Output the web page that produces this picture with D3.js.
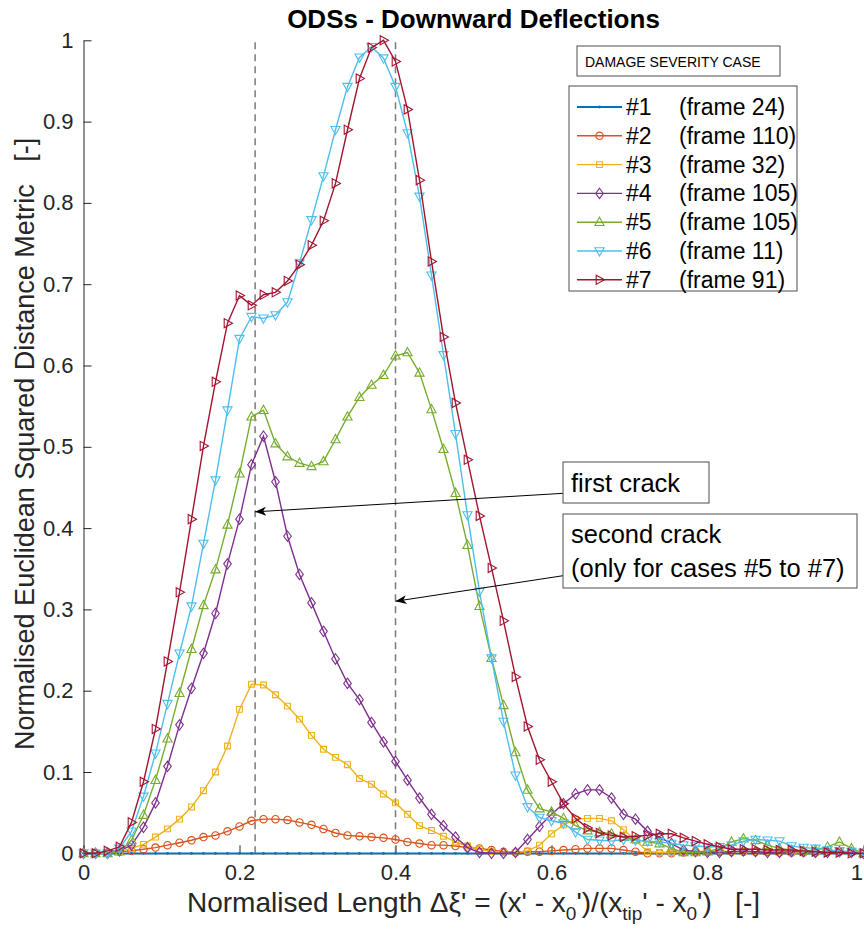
<!DOCTYPE html>
<html><head><meta charset="utf-8">
<script src="https://cdn.jsdelivr.net/npm/d3@7"></script>
<style>
body{margin:0;background:#fff;}
svg{display:block;font-family:"Liberation Sans",Arial,Helvetica,sans-serif;}
text{white-space:pre;}
</style></head><body>
<svg id="c" width="864" height="944"></svg>
<script>
// ---------------- data ----------------
const N = 66; // samples at x = i/65
const xs = d3.range(N).map(i => i / (N - 1));
const caseNames = ["#1", "#2", "#3", "#4", "#5", "#6", "#7"];
const frameLabels = ["(frame 24)", "(frame 110)", "(frame 32)", "(frame 105)", "(frame 105)", "(frame 11)", "(frame 91)"];
const s1 = d3.range(N).map(() => 0);
const s2 = [0,0,0.001,0.002,0.003,0.005,0.007,0.010,0.013,0.016,
 0.020,0.022,0.027,0.033,0.040,0.042,0.042,0.041,0.038,0.035,
 0.030,0.025,0.022,0.021,0.020,0.019,0.017,0.014,0.012,0.010,
 0.010,0.009,0.007,0.006,0.004,0.002,0.001,0.002,0.002,0.003,
 0.004,0.005,0.006,0.006,0.006,0.004,0.002,0.000,0.000,0.000,
 0.001,0.002,0.002,0.002,0.002,0.002,0.002,0.002,0.001,0.001,
 0.001,0.001,0.002,0.002,0.001,0.000];
const s3 = [0,0,0,0.002,0.006,0.011,0.020,0.030,0.042,0.057,
 0.077,0.100,0.132,0.177,0.208,0.207,0.195,0.181,0.165,0.145,
 0.128,0.118,0.109,0.092,0.085,0.073,0.062,0.048,0.034,0.028,
 0.021,0.014,0.009,0.005,0.002,0.001,0.001,0.003,0.010,0.024,
 0.035,0.042,0.043,0.043,0.040,0.029,0.016,0.002,0.001,0.001,
 0.002,0.002,0.003,0.003,0.002,0.002,0.002,0.002,0.002,0.001,
 0.001,0.001,0.002,0.002,0.001,0.000];
const s4 = [0,0,0,0.003,0.010,0.032,0.062,0.107,0.158,0.203,
 0.246,0.295,0.356,0.411,0.478,0.513,0.457,0.390,0.343,0.308,
 0.273,0.239,0.209,0.189,0.161,0.137,0.113,0.090,0.068,0.048,
 0.034,0.020,0.007,0.001,0.000,0.000,0.001,0.017,0.033,0.048,
 0.061,0.073,0.078,0.078,0.068,0.048,0.042,0.027,0.020,0.012,
 0.004,0.002,0.001,0.001,0.002,0.003,0.002,0.001,0.001,0.002,
 0.002,0.001,0.001,0.002,0.001,0.000];
const s5 = [0,0,0,0.002,0.016,0.047,0.090,0.141,0.197,0.251,
 0.305,0.349,0.404,0.467,0.537,0.545,0.504,0.488,0.480,0.476,
 0.482,0.509,0.537,0.561,0.576,0.588,0.612,0.616,0.591,0.546,
 0.497,0.443,0.379,0.304,0.240,0.182,0.124,0.078,0.055,0.051,
 0.043,0.034,0.028,0.026,0.024,0.020,0.017,0.014,0.012,0.006,
 0.001,0.001,0.002,0.006,0.014,0.018,0.016,0.010,0.006,0.004,
 0.003,0.004,0.008,0.014,0.006,0.000];
const s6 = [0,0,0,0.006,0.027,0.070,0.123,0.184,0.246,0.304,
 0.381,0.459,0.545,0.633,0.660,0.658,0.662,0.678,0.726,0.779,
 0.833,0.890,0.943,0.979,0.992,0.978,0.943,0.886,0.808,0.711,
 0.613,0.516,0.416,0.322,0.240,0.162,0.096,0.057,0.044,0.040,
 0.037,0.026,0.017,0.016,0.015,0.017,0.016,0.015,0.014,0.012,
 0.010,0.009,0.008,0.008,0.010,0.015,0.017,0.016,0.015,0.009,
 0.007,0.006,0.004,0.003,0.002,0.001];
const s7 = [0,0,0.003,0.008,0.038,0.088,0.153,0.236,0.321,0.411,
 0.501,0.580,0.652,0.686,0.674,0.687,0.690,0.704,0.724,0.748,
 0.778,0.824,0.890,0.953,0.991,1.000,0.974,0.915,0.828,0.728,
 0.635,0.554,0.484,0.415,0.351,0.286,0.217,0.156,0.115,0.088,
 0.061,0.043,0.031,0.025,0.022,0.020,0.021,0.022,0.024,0.024,
 0.019,0.015,0.011,0.008,0.005,0.005,0.005,0.004,0.004,0.004,
 0.003,0.002,0.001,0.001,0.000,0.000];
const seriesValues = [s1, s2, s3, s4, s5, s6, s7];
const xTicks = [0, 0.2, 0.4, 0.6, 0.8, 1];
const yTicks = [0, 0.1, 0.2, 0.3, 0.4, 0.5, 0.6, 0.7, 0.8, 0.9, 1];
const crackX = [0.22, 0.4];
const firstCrack = {tail: [0.6186, 0.443], head: [0.22, 0.42]};
const secondCrack = {tail: [0.6186, 0.342], head: [0.4, 0.31]};

// ---------------- styles ----------------
const colors = ["#0072BD", "#D95319", "#EDB120", "#7E2F8E", "#77AC30", "#4DBEEE", "#A2142F"];
const markers = ["dot", "circle", "square", "diamond", "up", "down", "right"];

const svg = d3.select("#c");
const x = d3.scaleLinear().domain([0, 1]).range([83.5, 863.5]);
const y = d3.scaleLinear().domain([0, 1]).range([853.3, 40.3]);

function markerPath(type) {
  switch (type) {
    case "circle": return "M3.7,0A3.7,3.7 0 1,1 -3.7,0A3.7,3.7 0 1,1 3.7,0Z";
    case "square": return "M-2.9,-2.9H2.9V2.9H-2.9Z";
    case "diamond": return "M0,-5.2L3.8,0L0,5.2L-3.8,0Z";
    case "up": return "M0,-5L4.6,3.3L-4.6,3.3Z";
    case "down": return "M0,5L4.6,-3.3L-4.6,-3.3Z";
    case "right": return "M5,0L-3.3,-4.6L-3.3,4.6Z";
    default: return "M1.4,0A1.4,1.4 0 1,1 -1.4,0A1.4,1.4 0 1,1 1.4,0Z";
  }
}

// axes
const axisColor = "#262626";
const fmt = d => (d === 0 || d === 1) ? d3.format("d")(d) : d3.format(".1f")(d);
const gx = svg.append("g").attr("transform", `translate(0,${y(0)})`)
  .call(d3.axisBottom(x).tickValues(xTicks).tickFormat(fmt).tickSizeInner(-8).tickSizeOuter(0).tickPadding(11));
const gy = svg.append("g").attr("transform", `translate(${x(0)},0)`)
  .call(d3.axisLeft(y).tickValues(yTicks).tickFormat(fmt).tickSizeInner(-8).tickSizeOuter(0).tickPadding(10));
[gx, gy].forEach(g => {
  g.attr("font-size", 22).attr("font-family", "'Liberation Sans',Arial,sans-serif");
  g.select(".domain").attr("stroke", axisColor).attr("stroke-width", 1);
  g.selectAll(".tick line").attr("stroke", axisColor).attr("stroke-width", 1);
  g.selectAll(".tick text").attr("fill", "#262626").attr("font-size", 22);
});
gx.selectAll(".tick text").filter(d => d === 1).attr("text-anchor", "end").attr("dx", -1);

// crack dashed lines
svg.append("g").selectAll("line").data(crackX).join("line")
  .attr("x1", d => x(d)).attr("x2", d => x(d))
  .attr("y1", y(0)).attr("y2", y(1))
  .attr("stroke", "#7a7a7a").attr("stroke-width", 1.5).attr("stroke-dasharray", "7,5");

// series
const line = d3.line().x((d, i) => x(xs[i])).y(d => y(d));
seriesValues.forEach((vals, k) => {
  const g = svg.append("g");
  g.append("path").datum(vals).attr("d", line)
    .attr("fill", "none").attr("stroke", colors[k]).attr("stroke-width", k === 0 ? 1.8 : 1.4);
  g.selectAll("path.m").data(vals).join("path").attr("class", "m")
    .attr("transform", (d, i) => `translate(${x(xs[i])},${y(d)})`)
    .attr("d", markerPath(markers[k]))
    .attr("fill", k === 0 ? colors[k] : "none")
    .attr("stroke", colors[k]).attr("stroke-width", k === 0 ? 0 : 1.1);
});

// annotations
function arrow(a) {
  const x1 = x(a.tail[0]), y1 = y(a.tail[1]), x2 = x(a.head[0]), y2 = y(a.head[1]);
  svg.append("line").attr("x1", x1).attr("y1", y1).attr("x2", x2).attr("y2", y2)
    .attr("stroke", "#000").attr("stroke-width", 1);
  const ang = Math.atan2(y2 - y1, x2 - x1) * 180 / Math.PI;
  svg.append("path").attr("d", "M0,0L-11,-4.5L-8,0L-11,4.5Z")
    .attr("transform", `translate(${x2},${y2}) rotate(${ang})`).attr("fill", "#000");
}
arrow(firstCrack);
arrow(secondCrack);

function textBox(bx, by, bw, bh, lines, fs, baselines) {
  const g = svg.append("g");
  g.append("rect").attr("x", bx).attr("y", by).attr("width", bw).attr("height", bh)
    .attr("fill", "#fff").attr("stroke", "#4d4d4d").attr("stroke-width", 1);
  lines.forEach((t, i) => g.append("text").attr("x", bx + 8).attr("y", baselines[i])
    .attr("font-size", fs).attr("fill", "#000").text(t));
}
textBox(x(firstCrack.tail[0]) - 3, 462, 146, 41, ["first crack"], 25.5, [492]);
textBox(x(secondCrack.tail[0]) - 3, 514, 294, 74, ["second crack", "(only for cases #5 to #7)"], 25.5, [543, 577]);

// legend title box
svg.append("rect").attr("x", 577).attr("y", 46).attr("width", 203).attr("height", 30)
  .attr("fill", "#fff").attr("stroke", "#4d4d4d");
svg.append("text").attr("x", 585).attr("y", 66.5).attr("font-size", 14).attr("fill", "#000").text("DAMAGE SEVERITY CASE");

// legend
const lg = svg.append("g");
lg.append("rect").attr("x", 569).attr("y", 86).attr("width", 228).attr("height", 205)
  .attr("fill", "#fff").attr("stroke", "#4d4d4d");
caseNames.forEach((nm, k) => {
  const ry = 107 + k * 28.8;
  lg.append("line").attr("x1", 577).attr("x2", 622).attr("y1", ry).attr("y2", ry)
    .attr("stroke", colors[k]).attr("stroke-width", k === 0 ? 1.8 : 1.4);
  lg.append("path").attr("transform", `translate(599.5,${ry})`).attr("d", markerPath(markers[k]))
    .attr("fill", k === 0 ? colors[k] : "none").attr("stroke", colors[k]).attr("stroke-width", k === 0 ? 0 : 1.1);
  lg.append("text").attr("x", 626).attr("y", ry + 8).attr("font-size", 23).attr("fill", "#000").text(nm);
  lg.append("text").attr("x", 679).attr("y", ry + 8).attr("font-size", 23).attr("fill", "#000").text(frameLabels[k]);
});

// title
svg.append("text").attr("x", 473.5).attr("y", 28).attr("text-anchor", "middle")
  .attr("font-size", 26).attr("font-weight", "bold").attr("fill", "#000").text("ODSs - Downward Deflections");

// y label
svg.append("text").attr("transform", `translate(34,${(y(0) + y(1)) / 2 - 3}) rotate(-90)`)
  .attr("text-anchor", "middle").attr("font-size", 27).attr("fill", "#262626")
  .text("Normalised Euclidean Squared Distance Metric   [-]");

// x label
const xl = svg.append("text").attr("x", (x(0) + x(1)) / 2).attr("y", 912).attr("text-anchor", "middle")
  .attr("font-size", 28).attr("fill", "#262626");
xl.append("tspan").text("Normalised Length \u0394\u03BE' = (x' - x");
xl.append("tspan").attr("font-size", 19).attr("dy", 8).text("0");
xl.append("tspan").attr("dy", -8).text("')/(x");
xl.append("tspan").attr("font-size", 19).attr("dy", 8).text("tip");
xl.append("tspan").attr("dy", -8).text("' - x");
xl.append("tspan").attr("font-size", 19).attr("dy", 8).text("0");
xl.append("tspan").attr("dy", -8).text("')   [-]");
</script></body></html>
